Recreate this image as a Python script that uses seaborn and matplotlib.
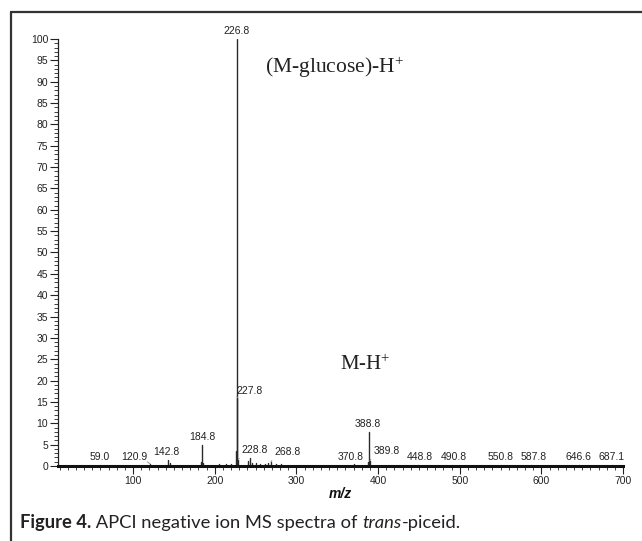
import numpy as np
import pandas as pd
import matplotlib
matplotlib.use("Agg")
import matplotlib.pyplot as plt
from matplotlib.lines import Line2D
import seaborn as sns

# ---- data ----
mz = [59.0, 120.9, 142.8, 145.5, 183.6, 184.8, 186.2, 205.0, 214.0, 220.0,
      225.8, 226.8, 227.8, 228.8, 240.5, 242.8, 245.0, 250.0, 255.0, 262.0,
      265.5, 268.8, 275.0, 281.0, 370.8, 387.8, 388.8, 389.8, 448.8, 490.8,
      550.8, 587.8, 646.6, 687.1]
intensity = [0.3, 0.5, 1.5, 0.8, 1.0, 5.0, 0.7, 0.4, 0.4, 0.5,
             3.5, 100.0, 16.0, 1.5, 1.2, 1.8, 0.8, 0.6, 0.5, 0.5,
             0.6, 1.0, 0.5, 0.5, 0.4, 1.0, 8.0, 1.2, 0.3, 0.3,
             0.3, 0.3, 0.3, 0.3]
labelled = ["59.0", "120.9", "142.8", "184.8", "226.8", "227.8", "228.8",
            "268.8", "370.8", "388.8", "389.8", "448.8", "490.8", "550.8",
            "587.8", "646.6", "687.1"]
yticks = [0, 5, 10, 15, 20, 25, 30, 35, 40, 45, 50, 55, 60, 65, 70, 75, 80, 85, 90, 95, 100]
xticks = [100, 200, 300, 400, 500, 600, 700]
annot_main = "(M-glucose)-H$^{+}$"
annot_mh = "M-H$^{+}$"
xlabel = "m/z"

# ---- layout (label offsets in points: dx, dy, leader line?) ----
label_offsets = {
    "59.0": (0, 2, False), "120.9": (-11.5, 1.5, True), "142.8": (-1, 2, False),
    "184.8": (0, 2, False), "226.8": (0, 2, False), "227.8": (9, 1, True),
    "228.8": (12, 3.3, True), "268.8": (12, 3.3, True), "370.8": (-2.4, 2, False),
    "388.8": (-0.5, 2, False), "389.8": (12, 3.5, True), "448.8": (1.4, 2, False),
    "490.8": (1.4, 2, False), "550.8": (-0.7, 2, False), "587.8": (1.4, 2, False),
    "646.6": (-0.7, 2, False), "687.1": (-0.7, 2, False),
}

sns.set_theme(style="ticks")
plt.rcParams["font.family"] = ["Liberation Sans", "DejaVu Sans"]
plt.rcParams["mathtext.fontset"] = "custom"
plt.rcParams["mathtext.rm"] = "Liberation Serif"
plt.rcParams["mathtext.it"] = "Liberation Serif:italic"
plt.rcParams["mathtext.bf"] = "Liberation Serif:bold"

fig = plt.figure(figsize=(6.42, 5.41), dpi=100)
W, H = 642, 541
ax = fig.add_axes([58 / W, 1 - 466 / H, (623 - 58) / W, (466 - 39) / H])

# stick spectrum drawn through seaborn
rows = []
for i, (m, v) in enumerate(zip(mz, intensity)):
    rows.append({"peak": i, "mz": m, "intensity": 0.0})
    rows.append({"peak": i, "mz": m, "intensity": v})
df = pd.DataFrame(rows)
sns.lineplot(data=df, x="mz", y="intensity", units="peak", estimator=None,
             sort=False, color="#2a2a2a", lw=1.0, ax=ax, legend=False)

ax.set_xlim(8, 700)
ax.set_ylim(0, 100)
ax.set_xticks(xticks)
ax.set_xticks(np.arange(10, 701, 10), minor=True)
ax.set_yticks(yticks)
ax.set_yticks(np.arange(0, 101, 1), minor=True)
ax.tick_params(axis="both", which="major", length=5.5, width=0.8, color="#222",
               labelsize=7.5, labelcolor="#222", pad=1.5, direction="out")
ax.tick_params(axis="both", which="minor", length=3, width=0.6, color="#222",
               direction="out")
for s in ["top", "right"]:
    ax.spines[s].set_visible(False)
ax.spines["left"].set_linewidth(0.9)
ax.spines["left"].set_color("#222")
ax.spines["bottom"].set_linewidth(2.2)
ax.spines["bottom"].set_color("#111")
ax.set_xlabel(xlabel, fontsize=10, fontweight="bold", fontstyle="italic",
              labelpad=1, color="#111")
ax.set_ylabel("")

# peak labels
lookup = {f"{m:.1f}": (m, v) for m, v in zip(mz, intensity)}
for lab in labelled:
    m, v = lookup[lab]
    dx, dy, leader = label_offsets[lab]
    kw = {}
    if leader:
        kw["arrowprops"] = dict(arrowstyle="-", color="#888", lw=0.6,
                                shrinkA=0, shrinkB=0,
                                relpos=(0, 0) if dx > 0 else (1, 0))
    ax.annotate(lab, xy=(m, v), xytext=(dx, dy), textcoords="offset points",
                ha="center", va="bottom", fontsize=7.5, color="#222", **kw)

# ion annotations
serif = ["Liberation Serif", "DejaVu Serif"]
fig.text(265 / W, 1 - 73 / H, annot_main, family=serif, fontsize=15.5,
         color="#222", ha="left", va="baseline")
fig.text(340 / W, 1 - 370 / H, annot_mh, family=serif, fontsize=15,
         color="#222", ha="left", va="baseline")

# frame
fig.add_artist(Line2D([11 / W, 1.0], [1 - 12 / H, 1 - 12 / H],
                      transform=fig.transFigure, color="#333", lw=1.6))
fig.add_artist(Line2D([11 / W, 11 / W], [0.0, 1 - 12 / H],
                      transform=fig.transFigure, color="#333", lw=1.6))

# caption
cap_font = ["Lato", "Liberation Sans", "DejaVu Sans"]
pieces = [("Figure 4.", "bold", "normal"),
          (" APCI negative ion MS spectra of ", "normal", "normal"),
          ("trans", "normal", "italic"),
          ("-piceid.", "normal", "normal")]
fig.canvas.draw()
renderer = fig.canvas.get_renderer()
xpix = 20
for txt, wt, st in pieces:
    t = fig.text(xpix / W, 1 - 528 / H, txt, family=cap_font, fontsize=13.2,
                 fontweight=wt, fontstyle=st, color="#222", ha="left",
                 va="baseline")
    bb = t.get_window_extent(renderer=renderer)
    xpix += bb.width

fig.savefig("out.png", dpi=100)
